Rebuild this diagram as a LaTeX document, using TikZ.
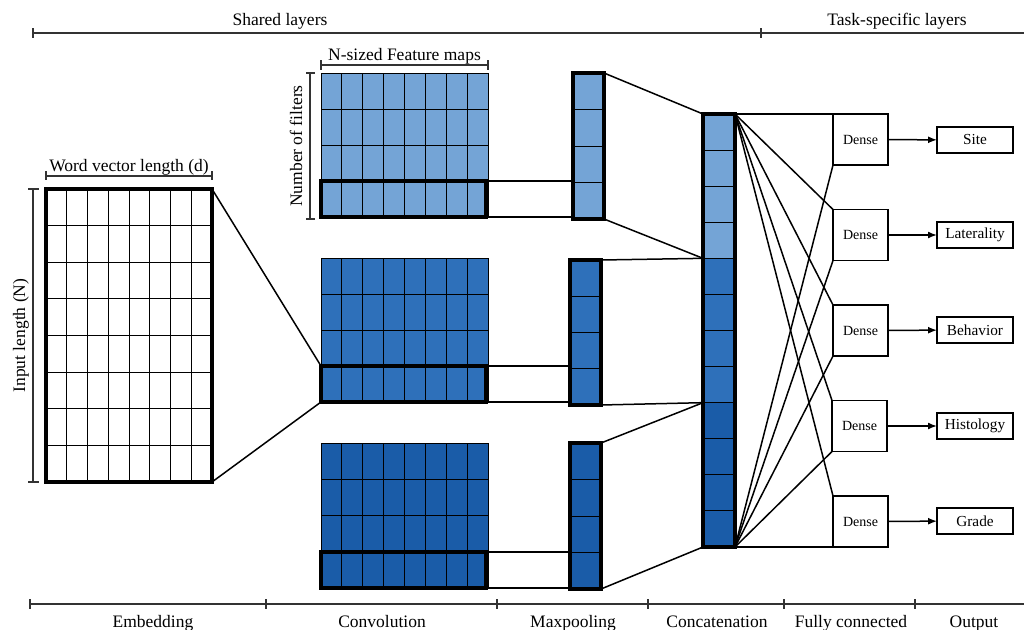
\documentclass[tikz,border=0pt]{standalone}
\usepackage{fontspec}
\setmainfont{Liberation Serif}
\usetikzlibrary{calc,arrows.meta}

\definecolor{mapA}{RGB}{116,164,214}
\definecolor{mapB}{RGB}{46,112,186}
\definecolor{mapC}{RGB}{26,92,168}

% fill a block node and rule it into cols x rows cells
\newcommand{\cellgrid}[4]{%
  \path[fill=#4] (#1.north west) rectangle (#1.south east);
  \ifnum#2>1
    \pgfmathtruncatemacro\lastcol{#2-1}%
    \foreach \k in {1,...,\lastcol}
      \draw[gridline] ($(#1.north west)!\k/#2!(#1.north east)$) -- ($(#1.south west)!\k/#2!(#1.south east)$);
  \fi
  \pgfmathtruncatemacro\lastrow{#3-1}%
  \foreach \k in {1,...,\lastrow}
    \draw[gridline] ($(#1.north west)!\k/#3!(#1.south west)$) -- ($(#1.north east)!\k/#3!(#1.south east)$);
}

\tikzset{
  block/.style={inner sep=0pt, outer sep=0pt},
  gridline/.style={line width=0.9pt, black},
  frame/.style={line width=3.1pt, black},
  link/.style={line width=1.5pt, black},
  axisline/.style={line width=1.1pt, black!80},
  lbl/.style={font=\fontsize{17.5}{20}\selectfont, inner sep=0pt},
  dense/.style={draw, line width=1.4pt, fill=white, inner sep=0pt, outer sep=0pt,
    minimum width=55pt, minimum height=51pt, font=\fontsize{14}{16}\selectfont},
  outbox/.style={draw, line width=1.4pt, fill=white, inner sep=0pt, outer sep=0pt,
    minimum width=76pt, minimum height=26pt, font=\fontsize{15.3}{17}\selectfont},
  arrowlink/.style={line width=1.5pt, -{Latex[length=9pt,width=7pt]}},
}

\begin{document}
\begin{tikzpicture}[x=1pt,y=-1pt]
\useasboundingbox[fill=white] (0,0) rectangle (1024,629);

% ---------- block placeholders ----------
\node[block, minimum width=166pt, minimum height=293pt] (emb) at (129,335.5) {};

\node[block, minimum width=167pt, minimum height=144pt] (fm1) at (404.5,145) {};
\node[block, minimum width=165pt, minimum height=36pt] (fm1row) at (403.5,199) {};
\node[block, minimum width=167pt, minimum height=144pt] (fm2) at (404.5,330) {};
\node[block, minimum width=165pt, minimum height=36pt] (fm2row) at (403.5,384) {};
\node[block, minimum width=167pt, minimum height=145pt] (fm3) at (404.5,515.5) {};
\node[block, minimum width=165pt, minimum height=36pt] (fm3row) at (403.5,570) {};

\node[block, minimum width=31pt, minimum height=146pt] (mp1) at (588.5,146) {};
\node[block, minimum width=31pt, minimum height=145pt] (mp2) at (585.5,332.5) {};
\node[block, minimum width=31pt, minimum height=146pt] (mp3) at (585.5,516) {};

\node[block, minimum width=32pt, minimum height=433pt] (cat) at (719,330.5) {};
\coordinate (catAB) at ($(cat.north west)!1/3!(cat.south west)$);
\coordinate (catBC) at ($(cat.north west)!2/3!(cat.south west)$);

% ---------- connectors between stages ----------
\draw[link] (emb.north east) -- (fm2row.north west);
\draw[link] (emb.south east) -- (fm2row.south west);

\foreach \i in {1,2,3} {
  \draw[link] (fm\i row.north east) -- (fm\i row.north east -| mp\i.west);
  \draw[link] (fm\i row.south east) -- (fm\i row.south east -| mp\i.west);
}

\draw[link] (mp1.north east) -- (cat.north west);
\draw[link] (mp1.south east) -- (catAB);
\draw[link] (mp2.north east) -- (catAB);
\draw[link] (mp2.south east) -- (catBC);
\draw[link] (mp3.north east) -- (catBC);
\draw[link] (mp3.south east) -- (cat.south west);

% ---------- embedding matrix ----------
\cellgrid{emb}{8}{8}{white}
\draw[frame] (emb.north west) rectangle (emb.south east);

% ---------- feature maps ----------
\cellgrid{fm1}{8}{4}{mapA}
\draw[gridline] (fm1.north west) rectangle (fm1.south east);
\draw[frame] (fm1row.north west) rectangle (fm1row.south east);
\cellgrid{fm2}{8}{4}{mapB}
\draw[gridline] (fm2.north west) rectangle (fm2.south east);
\draw[frame] (fm2row.north west) rectangle (fm2row.south east);
\cellgrid{fm3}{8}{4}{mapC}
\draw[gridline] (fm3.north west) rectangle (fm3.south east);
\draw[frame] (fm3row.north west) rectangle (fm3row.south east);

% ---------- max pooling vectors ----------
\cellgrid{mp1}{1}{4}{mapA}
\draw[frame] (mp1.north west) rectangle (mp1.south east);
\cellgrid{mp2}{1}{4}{mapB}
\draw[frame] (mp2.north west) rectangle (mp2.south east);
\cellgrid{mp3}{1}{4}{mapC}
\draw[frame] (mp3.north west) rectangle (mp3.south east);

% ---------- concatenated vector ----------
\fill[mapA] (cat.north west) rectangle (catAB -| cat.east);
\fill[mapB] (catAB) rectangle (catBC -| cat.east);
\fill[mapC] (catBC) rectangle (cat.south east);
\cellgrid{cat}{1}{12}{none}
\draw[frame] (cat.north west) rectangle (cat.south east);

% ---------- dense heads and outputs ----------
\node[dense] (d1) at (860.5,139.5) {Dense};
\node[dense] (d2) at (860.5,235) {Dense};
\node[dense] (d3) at (860.5,330.5) {Dense};
\node[dense] (d4) at (859.5,426) {Dense};
\node[dense] (d5) at (860.5,521.5) {Dense};

\node[outbox] (o1) at (975,140) {Site};
\node[outbox] (o2) at (975,235) {Laterality};
\node[outbox] (o3) at (975,330) {Behavior};
\node[outbox] (o4) at (975,426) {Histology};
\node[outbox] (o5) at (975,521) {Grade};

\foreach \i in {1,...,5} {
  \draw[link] (cat.north east) -- (d\i.north west);
  \draw[link] (cat.south east) -- (d\i.south west);
  \draw[arrowlink] (d\i) -- (o\i);
}

% ---------- dimension brackets ----------
\draw[axisline] ($(emb.north west)+(0,-13)$) -- ($(emb.north east)+(0,-13)$);
\draw[axisline] ($(emb.north west)+(0,-18)$) -- ($(emb.north west)+(0,-9)$);
\draw[axisline] ($(emb.north east)+(0,-18)$) -- ($(emb.north east)+(0,-9)$);
\node[lbl, anchor=base] (wvl) at (129,171.5) {Word vector length (d)};

\draw[axisline] ($(emb.north west)+(-13,0)$) -- ($(emb.south west)+(-13,0)$);
\draw[axisline] ($(emb.north west)+(-18,0)$) -- ($(emb.north west)+(-7,0)$);
\draw[axisline] ($(emb.south west)+(-18,0)$) -- ($(emb.south west)+(-7,0)$);
\node[lbl, anchor=base, rotate=90] (inlen) at (25,335.5) {Input length (N)};

\draw[axisline] ($(fm1.north west)+(0,-8)$) -- ($(fm1.north east)+(0,-8)$);
\draw[axisline] ($(fm1.north west)+(0,-13)$) -- ($(fm1.north west)+(0,-3)$);
\draw[axisline] ($(fm1.north east)+(0,-13)$) -- ($(fm1.north east)+(0,-3)$);
\node[lbl, anchor=base] (nsz) at (404.5,60) {N-sized Feature maps};

\draw[axisline] ($(fm1.north west)+(-11,0)$) -- ($(fm1.south west)+(-11,2)$);
\draw[axisline] ($(fm1.north west)+(-15,0)$) -- ($(fm1.north west)+(-6,0)$);
\draw[axisline] ($(fm1.south west)+(-15,2)$) -- ($(fm1.south west)+(-6,2)$);
\node[lbl, anchor=base, rotate=90] (nfilt) at (302,146) {Number of filters};

% ---------- top scale ----------
\coordinate (tL) at (33,33);
\coordinate (tM) at (761,33);
\coordinate (tR) at (1024,33);
\draw[axisline] (tL) -- (tR);
\foreach \c in {tL,tM}
  \draw[axisline] ($(\c)+(0,-5)$) -- ($(\c)+(0,5)$);
\node[lbl, anchor=base] (shared) at (280,25) {Shared layers};
\node[lbl, anchor=base] (task) at (897,25) {Task-specific layers};

% ---------- bottom scale ----------
\coordinate (b0) at (30,604);
\coordinate (b1) at (266,604);
\coordinate (b2) at (497,604);
\coordinate (b3) at (648,604);
\coordinate (b4) at (784,604);
\coordinate (b5) at (915,604);
\coordinate (b6) at (1024,604);
\draw[axisline] (b0) -- (b6);
\foreach \c in {b0,b1,b2,b3,b4,b5}
  \draw[axisline] ($(\c)+(0,-5)$) -- ($(\c)+(0,5)$);
\node[lbl, anchor=base] (l1) at (153,627) {Embedding};
\node[lbl, anchor=base] (l2) at (382,627) {Convolution};
\node[lbl, anchor=base] (l3) at (573,627) {Maxpooling};
\node[lbl, anchor=base] (l4) at (717,627) {Concatenation};
\node[lbl, anchor=base] (l5) at (851,627) {Fully connected};
\node[lbl, anchor=base] (l6) at (974,627) {Output};
\end{tikzpicture}
\end{document}
